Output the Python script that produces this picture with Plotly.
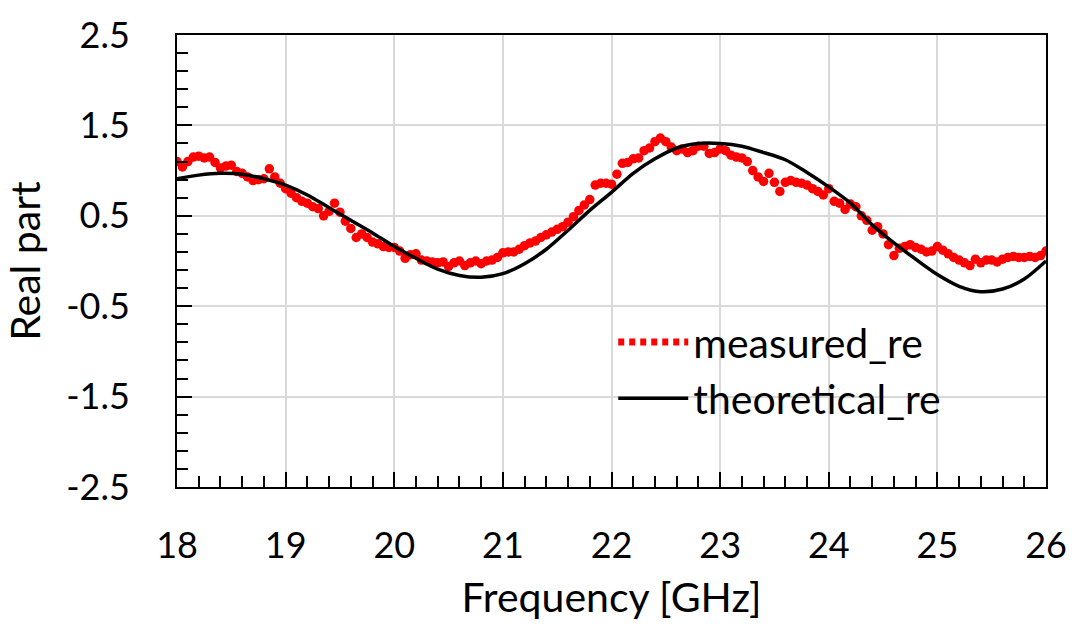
import plotly.graph_objects as go

# ---------------- data ----------------
freq_meas = [round(18 + 0.05 * i, 2) for i in range(161)]
measured_re = [
    1.10, 1.04, 1.10, 1.15, 1.16, 1.14, 1.15, 1.09, 1.03, 1.05,
    1.06, 0.99, 0.97, 0.93, 0.89, 0.90, 0.91, 1.02, 0.93, 0.86,
    0.80, 0.75, 0.70, 0.66, 0.64, 0.60, 0.58, 0.50, 0.55, 0.64,
    0.54, 0.44, 0.36, 0.26, 0.30, 0.26, 0.21, 0.19, 0.16, 0.15,
    0.15, 0.11, 0.03, 0.07, 0.08, 0.01, 0.00, -0.01, -0.02, -0.01,
    -0.06, -0.02, 0.00, -0.05, -0.02, 0.00, -0.03, 0.00, 0.01, 0.04,
    0.09, 0.10, 0.10, 0.13, 0.17, 0.20, 0.22, 0.26, 0.29, 0.32,
    0.35, 0.38, 0.43, 0.49, 0.56, 0.62, 0.68, 0.84, 0.86, 0.86,
    0.85, 0.96, 1.08, 1.09, 1.13, 1.14, 1.22, 1.25, 1.32, 1.36,
    1.32, 1.26, 1.22, 1.24, 1.20, 1.22, 1.27, 1.27, 1.19, 1.20,
    1.24, 1.22, 1.17, 1.15, 1.14, 1.10, 1.00, 0.93, 0.88, 0.97,
    0.87, 0.77, 0.87, 0.89, 0.87, 0.86, 0.84, 0.80, 0.77, 0.73,
    0.80, 0.66, 0.64, 0.57, 0.63, 0.60, 0.50, 0.45, 0.34, 0.38,
    0.30, 0.18, 0.06, 0.14, 0.16, 0.18, 0.15, 0.13, 0.10, 0.11,
    0.16, 0.12, 0.08, 0.04, 0.01, -0.02, -0.05, 0.02, -0.02, 0.01,
    0.01, -0.01, 0.02, 0.04, 0.05, 0.04, 0.04, 0.05, 0.04, 0.06,
    0.11,
]

freq_theo = [round(18 + 0.2 * i, 1) for i in range(41)]
theoretical_re = [
    0.91, 0.95, 0.97, 0.96, 0.91, 0.84, 0.73, 0.59, 0.45, 0.31,
    0.16, 0.03, -0.09, -0.16, -0.18, -0.14, -0.03, 0.13, 0.34, 0.56,
    0.76, 0.97, 1.13, 1.25, 1.30, 1.30, 1.27, 1.20, 1.12, 0.98,
    0.82, 0.64, 0.40, 0.20, 0.02, -0.15, -0.28, -0.34, -0.31, -0.20,
    0.00,
]

x_ticks = [18, 19, 20, 21, 22, 23, 24, 25, 26]
y_ticks = [2.5, 1.5, 0.5, -0.5, -1.5, -2.5]

FONT = "Lato"

fig = go.Figure()
fig.add_trace(go.Scatter(
    x=freq_meas, y=measured_re, mode="markers", name="measured_re",
    marker=dict(color="#ff0000", size=9.5, line=dict(width=0)),
    showlegend=False,
))
fig.add_trace(go.Scatter(
    x=freq_theo, y=theoretical_re, mode="lines", name="theoretical_re",
    line=dict(color="#000000", width=3.5, shape="spline", smoothing=0.8),
    showlegend=False,
))
# legend entries
fig.add_trace(go.Scatter(
    x=[None], y=[None], mode="lines", name="measured_re",
    line=dict(color="#ff0000", width=7, dash="6px,5px"),
))
fig.add_trace(go.Scatter(
    x=[None], y=[None], mode="lines", name="theoretical_re",
    line=dict(color="#000000", width=3.5),
))

axis_common = dict(
    showline=True, linecolor="#000000", linewidth=2, mirror=True,
    showgrid=True, gridcolor="#d9d9d9", gridwidth=1.5,
    zeroline=False, ticks="inside", ticklen=15, tickwidth=2, tickcolor="#000000",
    tickfont=dict(family=FONT, size=36, color="#000000"),
)

fig.update_xaxes(
    range=[18, 26], tickmode="array", tickvals=x_ticks,
    ticktext=[str(v) for v in x_ticks],
    title=dict(text="Frequency [GHz]", font=dict(family=FONT, size=41, color="#000000"), standoff=18),
    ticklabelstandoff=26,
    minor=dict(dtick=0.2, tick0=18, ticks="inside", ticklen=11, tickwidth=2, tickcolor="#000000", showgrid=False),
    **axis_common,
)
fig.update_yaxes(
    range=[-2.5, 2.5], tickmode="array", tickvals=y_ticks,
    ticktext=[f"{v:.1f}" for v in y_ticks],
    title=dict(text="Real part", font=dict(family=FONT, size=41, color="#000000"), standoff=18),
    ticklabelstandoff=38,
    minor=dict(dtick=0.2, tick0=2.5, ticks="inside", ticklen=11, tickwidth=2, tickcolor="#000000", showgrid=False),
    **axis_common,
)

fig.update_layout(
    width=1079, height=637,
    margin=dict(l=177, r=31, t=27, b=150),
    paper_bgcolor="#ffffff", plot_bgcolor="#ffffff",
    font=dict(family=FONT, color="#000000"),
    legend=dict(
        x=0.502, y=0.394, xanchor="left", yanchor="top",
        bgcolor="rgba(255,255,255,0)", borderwidth=0,
        font=dict(family=FONT, size=41, color="#000000"),
        itemwidth=70, tracegroupgap=0,
    ),
)

fig.write_html("out.html")
